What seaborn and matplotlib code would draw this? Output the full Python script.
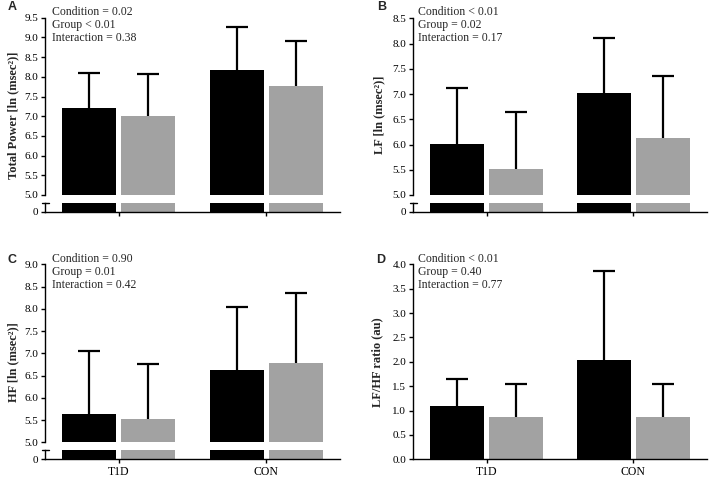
import matplotlib
matplotlib.use("Agg")
import matplotlib.pyplot as plt
import numpy as np
import pandas as pd
import seaborn as sns

# ---------------- data ----------------
groups = ["T1D", "CON"]
conditions = ["Condition A", "Condition B"]

tp_a = [7.20, 8.18]
tp_b = [7.00, 7.76]
tp_sd_a = [0.89, 1.09]
tp_sd_b = [1.06, 1.16]

lf_a = [6.01, 7.02]
lf_b = [5.51, 6.12]
lf_sd_a = [1.10, 1.08]
lf_sd_b = [1.13, 1.24]

hf_a = [5.63, 6.63]
hf_b = [5.53, 6.78]
hf_sd_a = [1.43, 1.42]
hf_sd_b = [1.24, 1.58]

ratio_a = [1.09, 2.04]
ratio_b = [0.86, 0.86]
ratio_sd_a = [0.56, 1.83]
ratio_sd_b = [0.69, 0.69]

stats_A = ["Condition = 0.02", "Group < 0.01", "Interaction = 0.38"]
stats_B = ["Condition < 0.01", "Group = 0.02", "Interaction = 0.17"]
stats_C = ["Condition = 0.90", "Group = 0.01", "Interaction = 0.42"]
stats_D = ["Condition < 0.01", "Group = 0.40", "Interaction = 0.77"]

ylabels = ["Total Power [ln (msec\u00b2)]", "LF [ln (msec\u00b2)]",
           "HF [ln (msec\u00b2)]", "LF/HF ratio (au)"]

# ---------------- style ----------------
sns.set_style("ticks")
plt.rcParams["font.family"] = ["Liberation Serif", "DejaVu Serif"]
plt.rcParams["axes.linewidth"] = 1.0
plt.rcParams["xtick.major.width"] = 1.0
plt.rcParams["ytick.major.width"] = 1.0
plt.rcParams["xtick.major.size"] = 3
plt.rcParams["ytick.major.size"] = 3
plt.rcParams["xtick.major.pad"] = 1.5
plt.rcParams["ytick.major.pad"] = 2
plt.rcParams["xtick.color"] = "black"
plt.rcParams["ytick.color"] = "black"
plt.rcParams["axes.edgecolor"] = "black"

BLACK = "#000000"
GRAY = "#a2a2a2"
FS = 8
W, H = 709, 478

fig = plt.figure(figsize=(W / 100, H / 100), dpi=100)


def add_ax(x0, x1, y0, y1):
    return fig.add_axes([x0 / W, 1 - y1 / H, (x1 - x0) / W, (y1 - y0) / H])


def make_df(ma, mb, sa, sb):
    rows = []
    for gi, g in enumerate(groups):
        rows.append((g, conditions[0], ma[gi], sa[gi]))
        rows.append((g, conditions[1], mb[gi], sb[gi]))
    return pd.DataFrame(rows, columns=["group", "cond", "value", "sd"])


def bars(ax, df, errors):
    sns.barplot(data=df, x="group", y="value", hue="cond", order=groups,
                hue_order=conditions, palette=[BLACK, GRAY], errorbar=None,
                width=0.8, gap=0.08, saturation=1, legend=False, ax=ax,
                linewidth=0)
    ax.set_xlabel("")
    ax.set_ylabel("")
    if errors:
        ps = sorted([p for p in ax.patches if p.get_width() > 0],
                    key=lambda p: p.get_x())
        xs = [p.get_x() + p.get_width() / 2 for p in ps]
        _, caps, _ = ax.errorbar(xs, df["value"],
                                 yerr=[np.zeros(len(df)), df["sd"]],
                                 fmt="none", ecolor="black", elinewidth=1.6,
                                 capsize=8, capthick=1.6, zorder=5)
        caps[0].set_visible(False)
    ax.set_xlim(-0.5, 1.5)
    sns.despine(ax=ax)


def broken_panel(x0, x1, y_top, y_mid, y_low_top, y_zero, df, top, show_x):
    up = add_ax(x0, x1, y_top, y_mid)
    lo = add_ax(x0, x1, y_low_top, y_zero)
    bars(up, df, True)
    bars(lo, df, False)
    up.set_ylim(5.0, top)
    ticks = np.arange(5.0, top + 0.001, 0.5)
    up.set_yticks(ticks)
    up.set_yticklabels([f"{t:.1f}" for t in ticks], fontsize=FS)
    up.spines["bottom"].set_visible(False)
    up.tick_params(axis="x", bottom=False, labelbottom=False)
    lo.set_ylim(0, 1)
    lo.set_yticks([0])
    lo.set_yticklabels(["0"], fontsize=FS)
    lo.set_xticks([0, 1])
    if show_x:
        lo.set_xticklabels(groups, fontsize=FS + 0.5)
    else:
        lo.set_xticklabels([])
    wfrac = 3.5 / (x1 - x0)
    lo.plot([-wfrac, wfrac], [1, 1], transform=lo.transAxes, color="black",
            lw=1.0, clip_on=False)
    return up, lo


def stats_text(x, y, lines):
    for i, s in enumerate(lines):
        fig.text(x / W, 1 - (y + i * 13) / H, s, fontsize=FS + 0.5,
                 va="center", ha="left")


# Panel A
broken_panel(45, 340, 17.7, 195, 203, 212,
             make_df(tp_a, tp_b, tp_sd_a, tp_sd_b), 9.5, False)
# Panel B
broken_panel(413.3, 706.7, 18.3, 195, 203, 212,
             make_df(lf_a, lf_b, lf_sd_a, lf_sd_b), 8.5, False)
# Panel C
broken_panel(45, 340, 264.3, 442.3, 450.3, 459.3,
             make_df(hf_a, hf_b, hf_sd_a, hf_sd_b), 9.0, True)
# Panel D
axD = add_ax(413.3, 706.7, 264.3, 459.3)
bars(axD, make_df(ratio_a, ratio_b, ratio_sd_a, ratio_sd_b), True)
axD.set_ylim(0, 4.0)
tD = np.arange(0, 4.001, 0.5)
axD.set_yticks(tD)
axD.set_yticklabels([f"{t:.1f}" for t in tD], fontsize=FS)
axD.set_xticks([0, 1])
axD.set_xticklabels(groups, fontsize=FS + 0.5)

# y labels
for (x, y), lab in zip([(13.5, 115), (379, 115), (13.5, 362), (377, 362)], ylabels):
    fig.text(x / W, 1 - y / H, lab, rotation=90, ha="center", va="center",
             fontsize=9, fontweight="bold")

# panel letters
for (x, y), let in zip([(12, 7), (382, 7), (12, 260), (381, 260)], "ABCD"):
    fig.text(x / W, 1 - y / H, let, ha="center", va="center", fontsize=9,
             fontweight="bold", family=["Liberation Sans", "DejaVu Sans"])

stats_text(52, 12, stats_A)
stats_text(418, 12, stats_B)
stats_text(52, 259, stats_C)
stats_text(418, 259, stats_D)

fig.savefig("out.png", dpi=100)
